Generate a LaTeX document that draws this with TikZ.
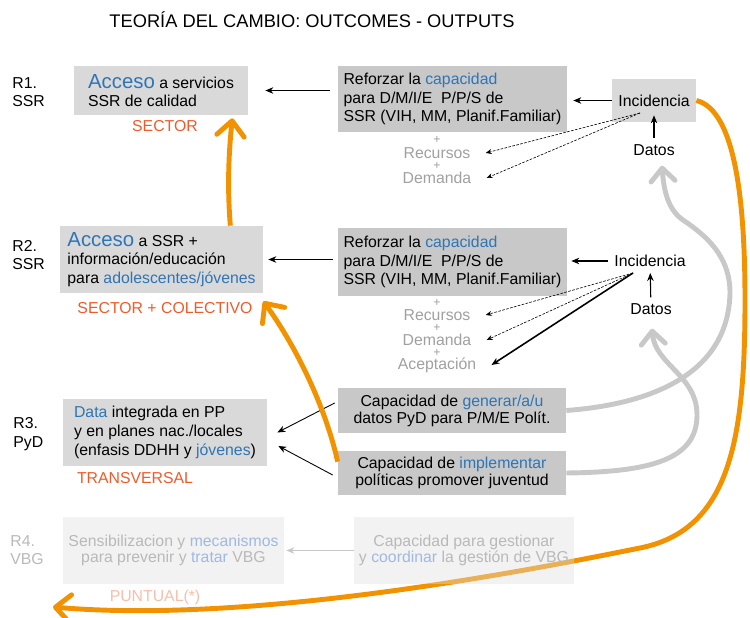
\documentclass[tikz,border=0pt]{standalone}
\usepackage{fontspec}
\setmainfont{Liberation Sans}
\usepackage{tikz}
\usetikzlibrary{arrows.meta,calc}

\definecolor{blu}{RGB}{46,117,182}
\definecolor{tagred}{RGB}{240,90,40}
\definecolor{orangeline}{RGB}{243,146,0}
\definecolor{boxgray}{RGB}{217,217,217}
\definecolor{outgray}{RGB}{200,200,200}
\definecolor{softgray}{RGB}{160,160,160}
\definecolor{fadegray}{RGB}{185,185,185}
\definecolor{fadeblue}{RGB}{160,185,225}
\definecolor{fadetag}{RGB}{248,190,170}

\begin{document}
\begin{tikzpicture}[x=0.02cm,y=-0.02cm,
    every node/.style={font=\fontsize{9}{10.6}\selectfont},
    outcome/.style={fill=boxgray,align=left,inner sep=0pt},
    output/.style={fill=outgray,align=left,inner sep=0pt},
    faded/.style={fill=black!13,fill opacity=0.4,text opacity=1,text=fadegray,
        align=center,inner sep=0pt,minimum height=1.34cm,
        font=\fontsize{9}{9.3}\selectfont},
    tag/.style={text=tagred},
    extra/.style={text=softgray,inner ysep=0pt,inner xsep=0.3cm},
    plusmark/.style={extra,font=\fontsize{7}{7}\selectfont},
    arr/.style={-{Stealth[length=1.6mm,width=1.3mm]},line width=0.6pt},
    dots/.style={-{Stealth[length=1.2mm,width=1mm]},line width=0.35pt,
        dash pattern=on 1.5pt off 0.8pt},
    orangearc/.style={draw=orangeline,line width=2.8pt,
        -{Straight Barb[round,length=0.3cm,width=0.55cm]}},
    grayarc/.style={draw=outgray,line width=2.8pt,
        -{Straight Barb[round,length=0.26cm,width=0.48cm]}},
  ]
    \useasboundingbox (0,0) rectangle (750,618);

    \node (title) at (312,20) [font=\fontsize{10.4}{12}\selectfont]
        {TEORÍA DEL CAMBIO: OUTCOMES - OUTPUTS};

    \node (lab1) at (12,92) [anchor=west,align=left,inner sep=0pt] {R1.\\SSR};
    \node (lab2) at (12,255) [anchor=west,align=left,inner sep=0pt] {R2.\\SSR};
    \node (lab3) at (13,434) [anchor=west,align=left,inner sep=0pt] {R3.\\PyD};

    \node (r1) at (161,90.5) [outcome,minimum width=3.48cm,minimum height=0.98cm,
        font=\fontsize{9}{10}\selectfont]
        {\textcolor{blu}{\fontsize{11.6}{13}\selectfont Acceso} a servicios\\SSR de calidad};
    \node (r2) at (161.5,259.5) [outcome,minimum width=4.06cm,minimum height=1.34cm]
        {\textcolor{blu}{\fontsize{11.6}{13}\selectfont Acceso} a SSR +\\información/educación\\para \textcolor{blu}{adolescentes/jóvenes}};
    \node (r3) at (165,432.5) [outcome,minimum width=4.08cm,minimum height=1.34cm]
        {\textcolor{blu}{Data} integrada en PP\\y en planes nac./locales\\(enfasis DDHH y \textcolor{blu}{jóvenes})};

    \node (sec1) at (165,126) [tag] {SECTOR};
    \node (sec2) at (165,308) [tag] {SECTOR + COLECTIVO};
    \node (sec3) at (135,478) [tag] {TRANSVERSAL};

    \node (o1) at (452.5,99) [output,minimum width=4.58cm,minimum height=1.32cm]
        {Reforzar la \textcolor{blu}{capacidad}\\para D/M/I/E\ \ P/P/S de\\SSR (VIH, MM, Planif.Familiar)};
    \node (o2) at (452.5,262) [output,minimum width=4.58cm,minimum height=1.36cm]
        {Reforzar la \textcolor{blu}{capacidad}\\para D/M/I/E\ \ P/P/S de\\SSR (VIH, MM, Planif.Familiar)};
    \node (o3a) at (452,410.5) [output,align=center,minimum width=4.56cm,minimum height=0.9cm,
        font=\fontsize{9}{9.6}\selectfont]
        {Capacidad de \textcolor{blu}{generar/a/u}\\datos PyD para P/M/E Polít.};
    \node (o3b) at (452,473) [output,align=center,minimum width=4.56cm,minimum height=0.88cm,
        font=\fontsize{9}{9.6}\selectfont]
        {Capacidad de \textcolor{blu}{implementar}\\políticas promover juventud};

    \node (p1a) at (437,140) [plusmark] {+};
    \node (rec1) at (437,153) [extra] {Recursos};
    \node (p1b) at (437,166) [plusmark] {+};
    \node (dem1) at (437,178) [extra] {Demanda};
    \node (p2a) at (437,303) [plusmark] {+};
    \node (rec2) at (437,315) [extra] {Recursos};
    \node (p2b) at (437,328) [plusmark] {+};
    \node (dem2) at (437,340) [extra] {Demanda};
    \node (p2c) at (437,353) [plusmark] {+};
    \node (acp2) at (437,365) [extra] {Aceptación};

    \node (inc1) at (654,100.5) [fill=boxgray,minimum width=1.68cm,minimum height=0.86cm,
        inner sep=0pt] {Incidencia};
    \node (dat1) at (654,150) {Datos};
    \node (inc2) at (650,261) {Incidencia};
    \node (dat2) at (651,309) {Datos};
    \coordinate (f1) at (640,113);
    \coordinate (f2) at (633,273);

    \draw[arr,shorten <=0.16cm,shorten >=0.34cm] (r1.east -| o1.west) -- (r1.east);
    \draw[arr,shorten <=0.1cm,shorten >=0.1cm] (r2.east -| o2.west) -- (r2.east);
    \draw[arr,shorten >=0.12cm] (inc1.west) -- (inc1.west -| o1.east);
    \draw[arr,shorten >=0.08cm] (inc2.west) -- (inc2.west -| o2.east);
    \draw[arr,shorten >=-0.14cm] (dat1) -- (inc1.south);
    \draw[arr] (dat2) -- (inc2);
    \draw[dots] (f1) -- (rec1.east);
    \draw[dots] (f1) -- (dem1.east);
    \draw[dots] (f2) -- (rec2.east);
    \draw[dots] (f2) -- (dem2.east);
    \draw[arr,line width=0.9pt] (f2) -- (acp2.east);
    \draw[arr,line width=0.5pt] ($(o3a.west)+(-3,-7.5)$) -- ($(r3.east)+(10,0)$);
    \draw[arr,line width=0.5pt] ($(o3b.west)+(-5,2)$) -- ($(r3.east)+(11,13.5)$);

    \coordinate (d1) at ($(dat1.south)+(8,4)$);
    \coordinate (d2) at ($(dat2.south)+(1,8)$);
    \draw[grayarc] (o3a.east) .. controls (640,405) and (728,380) .. (730,293)
        .. controls (730,255) and (705,235) .. (683,220)
        .. controls (670,211) and (664,195) .. (d1);
    \draw[grayarc] (o3b.east) .. controls (650,472) and (697,460) .. (697,415)
        .. controls (697,375) and (655,365) .. (d2);

    \coordinate (s1) at ($(r2.north east)+(-33,0)$);
    \coordinate (e1) at ($(r1.south east)+(-16,3)$);
    \coordinate (s2) at ($(o3b.north west)+(0,11)$);
    \coordinate (e2) at ($(r2.south east)+(0,8)$);
    \coordinate (tipL) at (53,607);
    \draw[orangearc] (s1) .. controls (227,185) and (229,150) .. (e1);
    \draw[orangearc] (s2) .. controls (325,405) and (295,345) .. (e2);
    \draw[orangearc] (inc1.east) .. controls (735,110) and (745,200) .. (745,300)
        .. controls (745,440) and (730,530) .. (640,548)
        .. controls (550,566) and (260,625) .. (tipL);

    \node (lab4) at (10,550) [anchor=west,align=left,inner sep=0pt,text=fadegray] {R4.\\VBG};
    \node (r4) at (173.5,550.5) [faded,minimum width=4.42cm]
        {Sensibilizacion y \textcolor{fadeblue}{mecanismos}\\para prevenir y \textcolor{fadeblue}{tratar} VBG};
    \node (o4) at (464,550.5) [faded,minimum width=4.4cm]
        {Capacidad para gestionar\\y \textcolor{fadeblue}{coordinar} la gestión de VBG};
    \node (sec4) at (155,597) [text=fadetag] {PUNTUAL(*)};
    \draw[arr,draw=outgray,line width=0.8pt,shorten >=0.04cm] (o4.west) -- (r4.east);
\end{tikzpicture}
\end{document}
